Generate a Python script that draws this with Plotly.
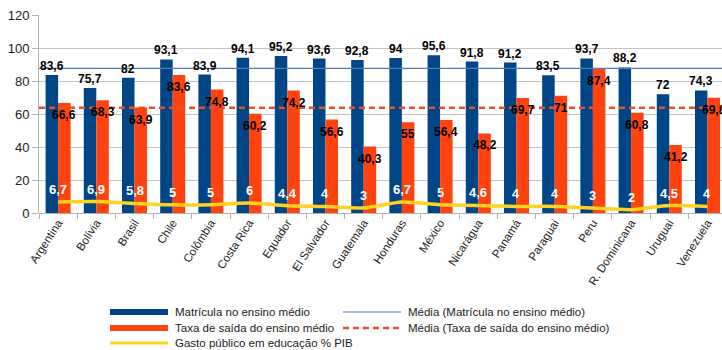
import numpy as np
import plotly.graph_objects as go

# Países da América Latina
paises = ["Argentina", "Bolívia", "Brasil", "Chile", "Colômbia", "Costa Rica",
          "Equador", "El Salvador", "Guatemala", "Honduras", "México", "Nicarágua",
          "Panamá", "Paraguai", "Peru", "R. Dominicana", "Uruguai", "Venezuela"]

# Matrícula no ensino médio (%)
matricula = [83.6, 75.7, 82, 93.1, 83.9, 94.1, 95.2, 93.6, 92.8, 94,
             95.6, 91.8, 91.2, 83.5, 93.7, 88.2, 72, 74.3]

# Taxa de saída do ensino médio (%)
taxa_saida = [66.6, 68.3, 63.9, 83.6, 74.8, 60.2, 74.2, 56.6, 40.3, 55,
              56.4, 48.2, 69.7, 71, 87.4, 60.8, 41.2, 69.8]

# Gasto público em educação (% do PIB)
gasto_pib = [6.7, 6.9, 5.8, 5, 5, 6, 4.4, 4, 3, 6.7, 5, 4.6, 4, 4, 3, 2, 4.5, 4]

y_ticks = [0, 20, 40, 60, 80, 100, 120]

nomes_series = ["Matrícula no ensino médio",
                "Taxa de saída do ensino médio",
                "Gasto público em educação % PIB",
                "Média (Matrícula no ensino médio)",
                "Média (Taxa de saída do ensino médio)"]

AZUL = "#004586"
LARANJA = "#ff420e"
AMARELO = "#ffd320"
AZUL_MEDIA = "#5a7db5"
VERMELHO_MEDIA = "#e8502a"
FONTE = "Liberation Sans"

# Área do gráfico em pixels
W, H = 722, 350
ML, MT, MB = 39, 15, 137
PW, PH = W - ML, H - MT - MB

# Geometria das barras agrupadas (em unidades de categoria)
BARGAP = 0.345
LARG_BARRA = (1 - BARGAP) / 2


def rotulo(v):
    return f"{v:g}".replace(".", ",")


def px_x(px):
    return (px - ML) / PW


def px_y(py):
    return (H - MB - py) / PH


pos = np.arange(len(paises))
x_azul = pos - LARG_BARRA / 2
x_laranja = pos + LARG_BARRA / 2

media_matricula = float(np.mean(matricula))
media_saida = float(np.mean(taxa_saida))
x_ini, x_fim = -0.5, len(paises) - 0.5

rotulo_fonte = dict(family=FONTE, size=12, color="black", weight="bold")
rotulo_branco = dict(family=FONTE, size=13, color="white", weight="bold")

fig = go.Figure()

fig.add_trace(go.Bar(
    x=pos, y=matricula, name=nomes_series[0],
    marker=dict(color=AZUL, line=dict(width=0)),
))
fig.add_trace(go.Bar(
    x=pos, y=taxa_saida, name=nomes_series[1],
    marker=dict(color=LARANJA, line=dict(width=0)),
))

fig.add_trace(go.Scatter(
    x=pos, y=gasto_pib, name=nomes_series[2],
    mode="lines", line=dict(color=AMARELO, width=3.5, shape="spline", smoothing=0.7),
))

# Linhas de média, ao longo de toda a largura do eixo
fig.add_trace(go.Scatter(
    x=[x_ini, x_fim], y=[media_matricula, media_matricula],
    mode="lines", name=nomes_series[3],
    line=dict(color=AZUL_MEDIA, width=1.2),
))
fig.add_trace(go.Scatter(
    x=[x_ini, x_fim], y=[media_saida, media_saida],
    mode="lines", name=nomes_series[4],
    line=dict(color=VERMELHO_MEDIA, width=2.5, dash="6px,4px"),
))

# Rótulos de valores, por cima de todas as linhas
for xa, xl, xc, vm, vs, vg in zip(x_azul, x_laranja, pos, matricula, taxa_saida, gasto_pib):
    fig.add_annotation(x=xa, y=vm, text=rotulo(vm), showarrow=False,
                       yanchor="bottom", yshift=0, font=rotulo_fonte)
    fig.add_annotation(x=xl, y=vs, text=rotulo(vs), showarrow=False,
                       yanchor="top", yshift=-3, font=rotulo_fonte)
    fig.add_annotation(x=xc, y=vg, text=rotulo(vg), showarrow=False,
                       yanchor="bottom", yshift=3, font=rotulo_branco)

# Legenda em duas colunas, abaixo do gráfico
itens_legenda = [
    (nomes_series[0], AZUL, 6, None, 110, 312),
    (nomes_series[1], LARANJA, 6, None, 110, 328),
    (nomes_series[2], AMARELO, 3, None, 110, 343),
    (nomes_series[3], AZUL_MEDIA, 1.2, None, 343, 312),
    (nomes_series[4], VERMELHO_MEDIA, 2.5, "6px,4px", 343, 328),
]
for nome, cor, larg, tracejado, x0, yc in itens_legenda:
    linha = dict(color=cor, width=larg)
    if tracejado:
        linha["dash"] = tracejado
    fig.add_shape(type="line", xref="paper", yref="paper",
                  x0=px_x(x0), x1=px_x(x0 + 58), y0=px_y(yc), y1=px_y(yc),
                  line=linha)
    fig.add_annotation(text=nome, xref="paper", yref="paper",
                       x=px_x(x0 + 63), y=px_y(yc), xanchor="left", yanchor="middle",
                       showarrow=False,
                       font=dict(family=FONTE, size=11.5, color="#222"))

fig.update_layout(
    width=W, height=H,
    margin=dict(l=ML, r=0, t=MT, b=MB, autoexpand=False),
    paper_bgcolor="white", plot_bgcolor="white",
    font=dict(family=FONTE, color="#222"),
    barmode="group", bargap=BARGAP, bargroupgap=0,
    showlegend=False,
    xaxis=dict(
        range=[x_ini, 17.38], automargin=False,
        tickmode="array", tickvals=pos, ticktext=paises,
        tickangle=-57, tickfont=dict(size=11.5, color="#222"),
        ticks="", showgrid=False, showline=False, zeroline=False,
        minor=dict(tick0=0.5, dtick=1, ticks="outside", ticklen=5,
                   tickcolor="#b3b3b3", showgrid=False),
    ),
    yaxis=dict(
        range=[0, 120], tickvals=y_ticks, automargin=False,
        tickfont=dict(size=13, color="#222"),
        ticks="outside", ticklen=6, tickcolor="#b3b3b3",
        showgrid=True, gridcolor="#c4c4c4", gridwidth=1,
        showline=True, linecolor="#b3b3b3", linewidth=1,
        zeroline=True, zerolinecolor="#b3b3b3", zerolinewidth=1,
    ),
)

fig.write_html("out.html")
